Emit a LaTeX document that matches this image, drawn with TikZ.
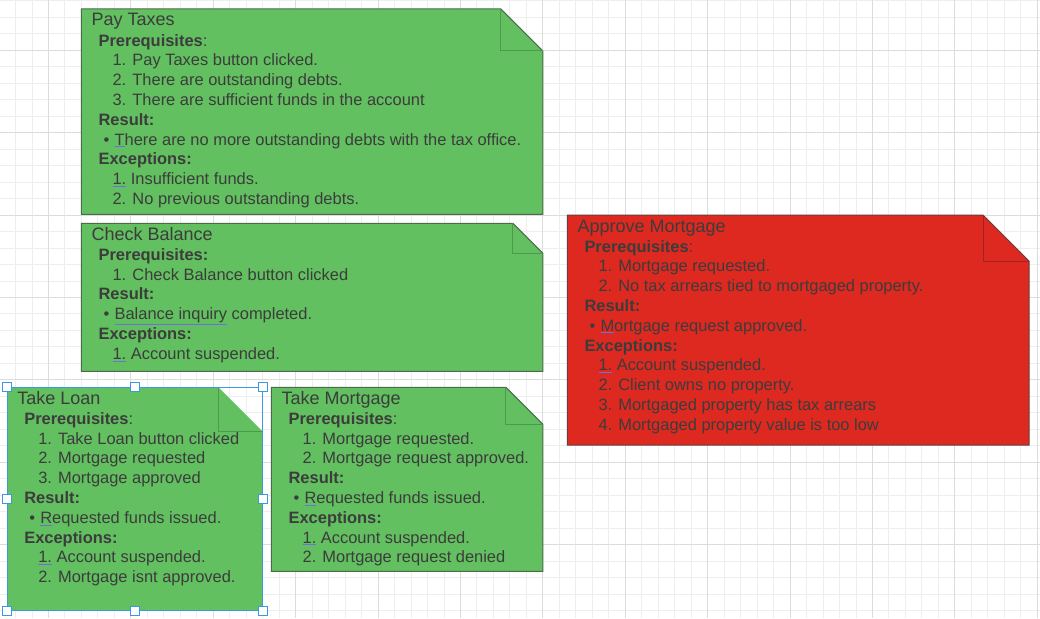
\documentclass[tikz,border=0pt]{standalone}
\usepackage{fontspec}
\setmainfont{Liberation Sans}
\usetikzlibrary{calc}
\definecolor{txt}{HTML}{3C3C3C}
\definecolor{gfill}{RGB}{98,192,96}
\definecolor{gline}{HTML}{4B6B4B}
\definecolor{gfoldc}{HTML}{4C9A4C}
\definecolor{rfill}{RGB}{221,41,31}
\definecolor{rline}{HTML}{6B3A3A}
\definecolor{rfoldc}{HTML}{A02424}
\definecolor{splc}{RGB}{110,110,225}
\definecolor{gridminor}{HTML}{EEEEEE}
\definecolor{gridmajor}{HTML}{DCDCDC}
\definecolor{selblue}{HTML}{3A9BDC}
\newcommand\bodyfont{\fontsize{16.45}{19.8}\selectfont}
\newcommand\titlefontx{\fontsize{18}{20}\selectfont}
\newcommand\nhd[1]{\textbf{#1}}
\newcommand\nitm[1]{\hspace*{14pt}#1}
\newcommand\nbul[1]{\hspace*{5pt}\makebox[11pt][l]{\textbullet}#1}
\newcommand\splu[1]{{\color{splc}\underline{\color{txt}#1}}}
\newcommand\drawnote[6]{%
  \path[#6] (#1,#2) -- ({#3-#5},#2) -- (#3,{#2+#5}) -- (#3,#4) -- (#1,#4) -- cycle;
  \draw[#6fold] ({#3-#5},#2) -- ({#3-#5},{#2+#5}) -- (#3,{#2+#5});
}
\newcommand\notetext[5]{%
  \node[titletext] (#1-title) at ({#2+10},{#3+17}) {#4};
  \node[bodytext] (#1-body) at ({#2+17},{#3+37}) {\parbox[t]{470pt}{\bodyfont #5}};
}
\tikzset{
  greennote/.style={fill=gfill, draw=gline, line width=1pt},
  greennotefold/.style={draw=gfoldc, line width=1pt},
  rednote/.style={fill=rfill, draw=rline, line width=1pt},
  rednotefold/.style={draw=rfoldc, line width=1pt},
  selnote/.style={fill=gfill},
  selnotefold/.style={draw=gfoldc, line width=1pt},
  titletext/.style={anchor=base west, inner sep=0pt, text=txt, font=\titlefontx},
  bodytext/.style={anchor=base west, inner sep=0pt, text=txt},
  handle/.style={draw=selblue, fill=white, line width=0.8pt, minimum size=9pt, inner sep=0pt},
  gminor/.style={draw=gridminor, line width=1pt},
  gmajor/.style={draw=gridmajor, line width=1pt}
}
\begin{document}
\begin{tikzpicture}[x=1pt, y=-1pt]
\useasboundingbox (0,0) rectangle (1040,618);
\fill[white] (0,0) rectangle (1040,618);
% grid
\foreach \i in {0,...,62} {\draw[gminor] ({15.54+16.48*\i},0) -- ({15.54+16.48*\i},618);}
\foreach \j in {0,...,37} {\draw[gminor] (0,{0.86+16.48*\j}) -- (1040,{0.86+16.48*\j});}
\foreach \i in {0,...,12} {\draw[gmajor] ({48.5+82.4*\i},0) -- ({48.5+82.4*\i},618);}
\foreach \j in {0,...,6} {\draw[gmajor] (0,{50.3+82.4*\j}) -- (1040,{50.3+82.4*\j});}

% notes
\drawnote{81.4}{9}{542.9}{214.3}{42}{greennote}
\drawnote{81.4}{223.3}{542.9}{371.3}{30}{greennote}
\drawnote{567.3}{215}{1029}{445}{46}{rednote}
\drawnote{7.1}{387.3}{262.5}{610.7}{44}{selnote}
\drawnote{271.4}{387.3}{542.9}{571.3}{37}{greennote}

\notetext{pay}{81.4}{9}{Pay Taxes}{%
\nhd{Prerequisites}:\\
\nitm{1. Pay Taxes button clicked.}\\
\nitm{2. There are outstanding debts.}\\
\nitm{3. There are sufficient funds in the account}\\
\nhd{Result:}\\
\nbul{\splu{T}here are no more outstanding debts with the tax office.}\\
\nhd{Exceptions:}\\
\nitm{\splu{1.} Insufficient funds.}\\
\nitm{2. No previous outstanding debts.}}

\notetext{chk}{81.4}{223.3}{Check Balance}{%
\nhd{Prerequisites:}\\
\nitm{1. Check Balance button clicked}\\
\nhd{Result:}\\
\nbul{\splu{Balance inquiry} completed.}\\
\nhd{Exceptions:}\\
\nitm{\splu{1.} Account suspended.}}

\notetext{apm}{567.3}{215}{Approve Mortgage}{%
\nhd{Prerequisites}:\\
\nitm{1. Mortgage requested.}\\
\nitm{2. No tax arrears tied to mortgaged property.}\\
\nhd{Result:}\\
\nbul{\splu{M}ortgage request approved.}\\
\nhd{Exceptions:}\\
\nitm{\splu{1.} Account suspended.}\\
\nitm{2. Client owns no property.}\\
\nitm{3. Mortgaged property has tax arrears}\\
\nitm{4. Mortgaged property value is too low}}

\notetext{tl}{7.1}{387.3}{Take Loan}{%
\nhd{Prerequisites}:\\
\nitm{1. Take Loan button clicked}\\
\nitm{2. Mortgage requested}\\
\nitm{3. Mortgage approved}\\
\nhd{Result:}\\
\nbul{\splu{R}equested funds issued.}\\
\nhd{Exceptions:}\\
\nitm{\splu{1.} Account suspended.}\\
\nitm{2. Mortgage isnt approved.}}

\notetext{tm}{271.4}{387.3}{Take Mortgage}{%
\nhd{Prerequisites}:\\
\nitm{1. Mortgage requested.}\\
\nitm{2. Mortgage request approved.}\\
\nhd{Result:}\\
\nbul{\splu{R}equested funds issued.}\\
\nhd{Exceptions:}\\
\nitm{\splu{1.} Account suspended.}\\
\nitm{2. Mortgage request denied}}

% selection frame on Take Loan
\draw[selblue, line width=0.8pt] (7.1,387.3) rectangle (262.5,610.7);
\node[handle] (h1) at (7.1,387.3) {};
\node[handle] (h2) at (134.8,387.3) {};
\node[handle] (h3) at (262.5,387.3) {};
\node[handle] (h4) at (7.1,499) {};
\node[handle] (h5) at (262.5,499) {};
\node[handle] (h6) at (7.1,610.7) {};
\node[handle] (h7) at (134.8,610.7) {};
\node[handle] (h8) at (262.5,610.7) {};
\end{tikzpicture}
\end{document}
